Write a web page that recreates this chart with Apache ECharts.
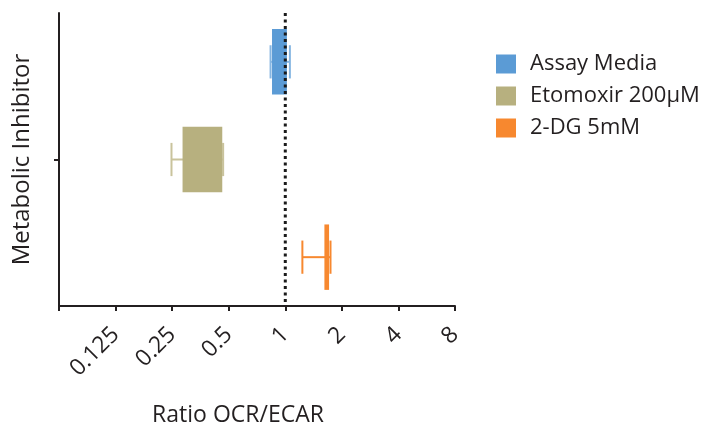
<!DOCTYPE html>
<html><head><meta charset="utf-8">
<script src="https://cdn.jsdelivr.net/npm/echarts@6/dist/echarts.min.js"></script>
<style>html,body{margin:0;padding:0;background:#fff}#c{width:711px;height:433px}</style>
</head><body><div id="c"></div>
<script>
const categories = ['Assay Media', 'Etomoxir 200μM', '2-DG 5mM'];
const boxLow = [0.85, 0.284, 1.615];
const boxHigh = [1.02, 0.462, 1.71];
const whiskerLow = [0.835, 0.248, 1.233];
const whiskerHigh = [1.058, 0.467, 1.74];
const xTickValues = [0.0625, 0.125, 0.25, 0.5, 1, 2, 4, 8];
const xTickLabels = ['', '0.125', '0.25', '0.5', '1', '2', '4', '8'];
const refValue = [1];

const colors = ['#5b9bd5', '#b7b07f', '#f7882f'];
const whiskerColors = ['#86b6e2', '#c9c39c', '#f7882f'];
const FONT = '"Open Sans", "Noto Sans", sans-serif';

function makeRender(i) {
  return function (params, api) {
    const cat = api.value(0);
    const cs = params.coordSys;
    const band = cs.height / categories.length;
    const y = api.coord([1, cat])[1];
    const xbl = api.coord([api.value(1), cat])[0];
    const xbh = api.coord([api.value(2), cat])[0];
    const xwl = api.coord([api.value(3), cat])[0];
    const xwh = api.coord([api.value(4), cat])[0];
    const boxH = band * 0.67, capH = band * 0.34;
    const ws = { stroke: whiskerColors[i], lineWidth: 2 };
    return {
      type: 'group',
      children: [
        { type: 'line', shape: { x1: xwl, y1: y, x2: xwh, y2: y }, style: ws },
        { type: 'line', shape: { x1: xwl, y1: y - capH / 2, x2: xwl, y2: y + capH / 2 }, style: ws },
        { type: 'line', shape: { x1: xwh, y1: y - capH / 2, x2: xwh, y2: y + capH / 2 }, style: ws },
        { type: 'rect', shape: { x: xbl, y: y - boxH / 2, width: xbh - xbl, height: boxH }, style: { fill: colors[i] } }
      ]
    };
  };
}

const series = categories.map((name, i) => ({
  name: name,
  type: 'custom',
  itemStyle: { color: colors[i] },
  renderItem: makeRender(i),
  encode: { x: [1, 2, 3, 4], y: 0 },
  data: [[i, boxLow[i], boxHigh[i], whiskerLow[i], whiskerHigh[i]]],
  silent: true
}));

series.push({
  name: 'ref',
  type: 'custom',
  encode: { x: 0, y: 1 },
  data: refValue.map(v => [v, 0]),
  renderItem: function (params, api) {
    const cs = params.coordSys;
    const x = api.coord([api.value(0), 0])[0];
    return {
      type: 'line',
      shape: { x1: x, y1: cs.y, x2: x, y2: cs.y + cs.height },
      style: { stroke: '#1a1a1a', lineWidth: 3, lineDash: [3, 3.5] }
    };
  },
  silent: true,
  z: 5
});

const chart = echarts.init(document.getElementById('c'), null, { renderer: 'canvas' });
chart.setOption({
  animation: false,
  backgroundColor: '#fff',
  grid: { left: 59, right: 256, top: 13, bottom: 127, containLabel: false, outerBoundsMode: 'none' },
  legend: {
    data: categories,
    orient: 'vertical',
    left: 491,
    top: 48,
    icon: 'rect',
    itemWidth: 20,
    itemHeight: 19,
    itemGap: 10,
    textStyle: { fontSize: 22, color: '#231f20', fontFamily: FONT, padding: [0, 0, 0, 9] }
  },
  xAxis: {
    type: 'log',
    logBase: 2,
    min: xTickValues[0],
    max: xTickValues[xTickValues.length - 1],
    interval: 1,
    splitLine: { show: false },
    axisLine: { show: true, onZero: false, lineStyle: { color: '#231f20', width: 2 } },
    axisTick: { show: true, length: 5, lineStyle: { color: '#231f20', width: 2 } },
    axisLabel: {
      rotate: 45,
      fontSize: 23,
      color: '#231f20',
      fontFamily: FONT,
      margin: 25,
      formatter: function (v) {
        const idx = xTickValues.findIndex(t => Math.abs(t - v) < 1e-6);
        return idx >= 0 ? xTickLabels[idx] : '';
      }
    }
  },
  yAxis: {
    type: 'category',
    data: categories,
    inverse: true,
    name: 'Metabolic Inhibitor',
    nameLocation: 'middle',
    nameGap: 25,
    nameTextStyle: { fontSize: 24, color: '#231f20', fontFamily: FONT },
    axisLine: { show: true, onZero: false, lineStyle: { color: '#231f20', width: 2 } },
    axisTick: {
      show: true,
      alignWithLabel: true,
      length: 5,
      interval: function (idx) { return idx === 1; },
      lineStyle: { color: '#231f20', width: 2 }
    },
    axisLabel: { show: false },
    splitLine: { show: false }
  },
  graphic: [{
    type: 'text',
    x: 238,
    y: 415,
    style: { text: 'Ratio OCR/ECAR', fontSize: 23, fill: '#231f20', fontFamily: FONT, align: 'center', verticalAlign: 'middle' }
  }],
  series: series
});
</script>
</body></html>
